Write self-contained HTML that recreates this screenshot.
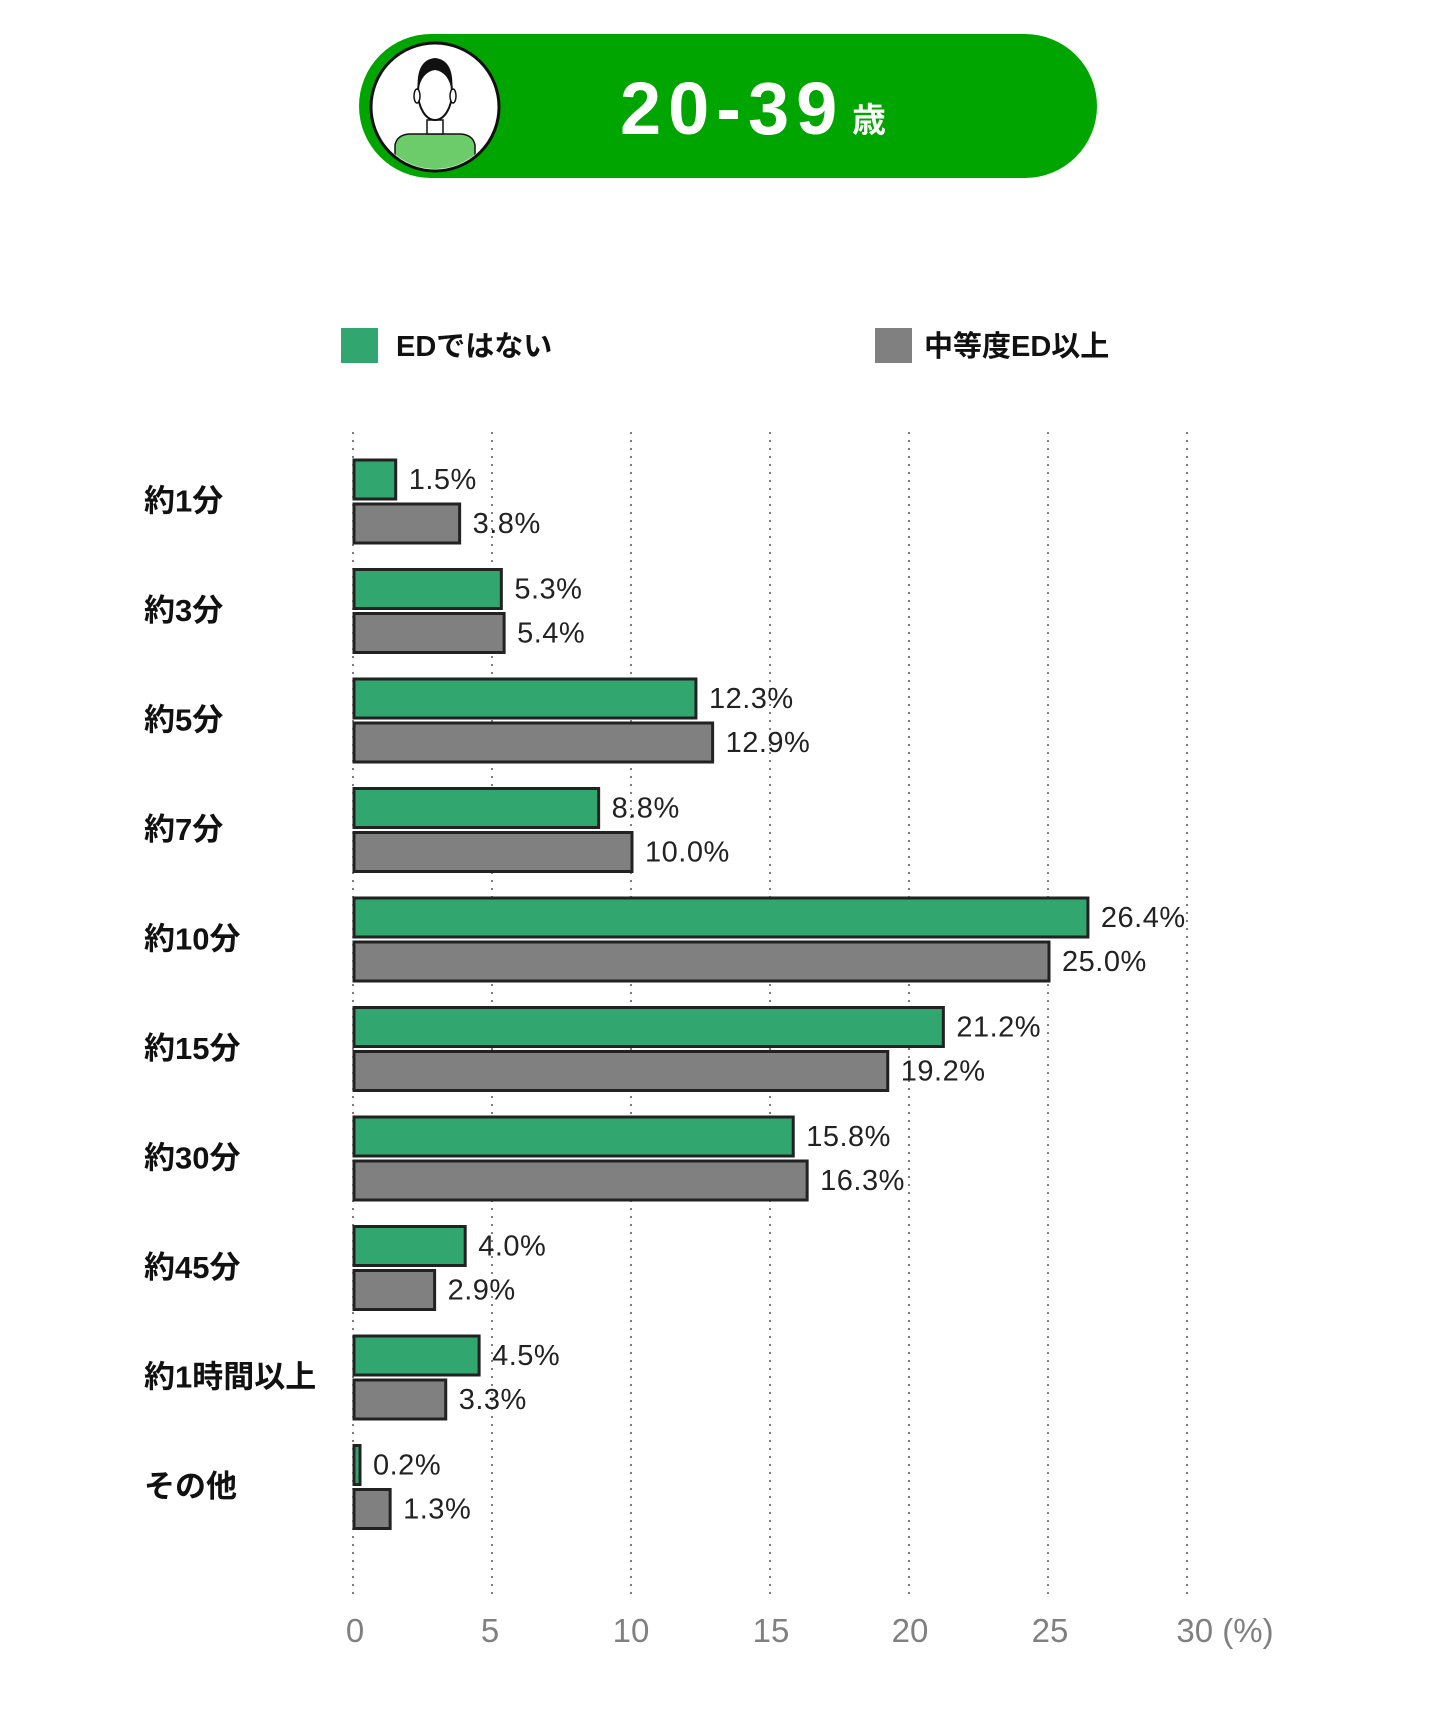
<!DOCTYPE html>
<html><head><meta charset="utf-8"><style>
html,body{margin:0;padding:0;background:#fff}
svg{display:block}
text{font-family:"Liberation Sans","Noto Sans CJK JP",sans-serif}
</style></head><body>
<svg width="1440" height="1723" viewBox="0 0 1440 1723" xmlns="http://www.w3.org/2000/svg">
<rect x="359" y="34" width="738" height="144" rx="72" fill="#00a500"/>
<circle cx="435" cy="107" r="64" fill="#fff" stroke="#111" stroke-width="3"/>
<clipPath id="cc"><circle cx="435" cy="107" r="62"/></clipPath>
<g clip-path="url(#cc)">
<path d="M395 178 L395 145 Q397 135 409 134 L461 134 Q473 135 475 145 L475 178 Z" fill="#6ccc6a" stroke="#111" stroke-width="1.5"/>
<rect x="427" y="120" width="16" height="14" fill="#fff" stroke="#111" stroke-width="1.5"/>
<ellipse cx="435" cy="92" rx="17" ry="28" fill="#fff" stroke="#111" stroke-width="2"/>
<path d="M418 92 Q415 60 435 58 Q455 60 452 92 Q449 72 435 70 Q421 72 418 92Z" fill="#111"/>
<ellipse cx="417" cy="96" rx="3" ry="7" fill="#fff" stroke="#111" stroke-width="1.5"/>
<ellipse cx="453" cy="96" rx="3" ry="7" fill="#fff" stroke="#111" stroke-width="1.5"/>
</g>
<text x="620" y="134" font-size="74" font-weight="bold" fill="#fff" letter-spacing="7">20-39</text>
<text x="852" y="132" font-size="34" font-weight="bold" fill="#fff">歳</text>
<rect x="341" y="328" width="37" height="35" fill="#31a66e"/>
<text x="396" y="356" font-size="29" font-weight="bold" fill="#111">EDではない</text>
<rect x="875" y="328" width="37" height="35" fill="#808080"/>
<text x="924" y="356" font-size="29" font-weight="bold" fill="#111">中等度ED以上</text>
<g stroke="#555" stroke-width="1.5" stroke-dasharray="2,6">
<line x1="353" y1="432" x2="353" y2="1600"/>
<line x1="492" y1="432" x2="492" y2="1600"/>
<line x1="631" y1="432" x2="631" y2="1600"/>
<line x1="770" y1="432" x2="770" y2="1600"/>
<line x1="909" y1="432" x2="909" y2="1600"/>
<line x1="1048" y1="432" x2="1048" y2="1600"/>
<line x1="1187" y1="432" x2="1187" y2="1600"/>
</g>
<g font-size="33" fill="#808080" text-anchor="middle">
<text x="355" y="1642">0</text><text x="490" y="1642">5</text><text x="631" y="1642">10</text>
<text x="771" y="1642">15</text><text x="910" y="1642">20</text><text x="1050" y="1642">25</text>
<text x="1225" y="1642">30 (%)</text>
</g>
<script>
var cats=["約1分","約3分","約5分","約7分","約10分","約15分","約30分","約45分","約1時間以上","その他"];
var g=[1.5,5.3,12.3,8.8,26.4,21.2,15.8,4.0,4.5,0.2];
var r=[3.8,5.4,12.9,10.0,25.0,19.2,16.3,2.9,3.3,1.3];
var ns="http://www.w3.org/2000/svg",svg=document.querySelector("svg");
var U=27.8,X=354;
function el(t,a,txt){var e=document.createElementNS(ns,t);for(var k in a)e.setAttribute(k,a[k]);if(txt)e.textContent=txt;svg.appendChild(e);return e;}
for(var i=0;i<10;i++){
 var y=460+i*109.5;
 var gw=Math.max(g[i]*U,6);
 el("rect",{x:X,y:y,width:gw,height:39,fill:"#31a66e",stroke:"#222","stroke-width":3});
 el("rect",{x:X,y:y+44,width:r[i]*U,height:39,fill:"#808080",stroke:"#222","stroke-width":3});
 el("text",{x:X+gw+13,y:y+20,"dominant-baseline":"central","font-size":29,"letter-spacing":"0.5",fill:"#222"},g[i].toFixed(1)+"%");
 el("text",{x:X+r[i]*U+13,y:y+64,"dominant-baseline":"central","font-size":29,"letter-spacing":"0.5",fill:"#222"},r[i].toFixed(1)+"%");
 el("text",{x:144,y:y+41,"dominant-baseline":"central","font-size":31,"font-weight":"bold",fill:"#111"},cats[i]);
}
</script>
</svg>
</body></html>
